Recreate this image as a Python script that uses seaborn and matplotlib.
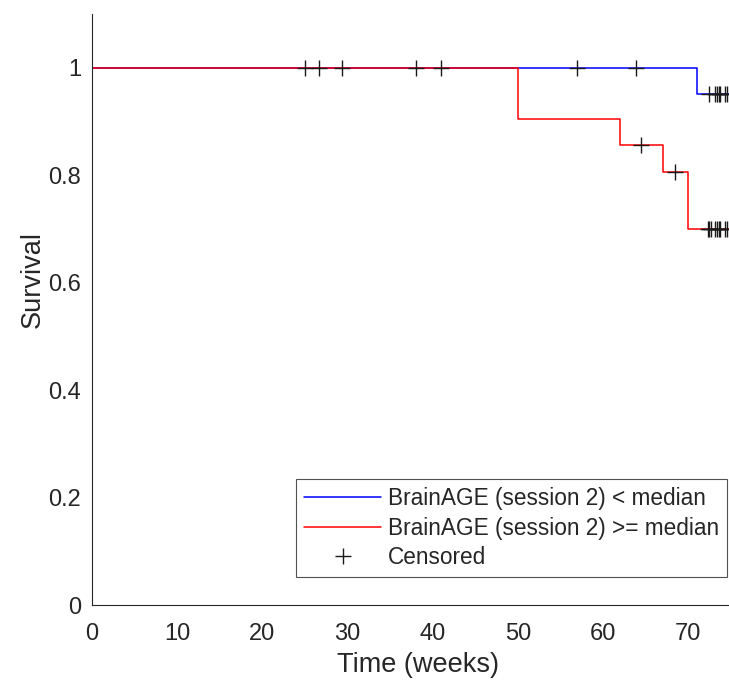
import numpy as np
import pandas as pd
import matplotlib
matplotlib.use('Agg')
import matplotlib.pyplot as plt
from matplotlib.lines import Line2D
import seaborn as sns

# Kaplan-Meier step curves (time in weeks, survival after each step)
low_time = [0, 71.0, 74.8]
low_surv = [1.0, 0.952, 0.952]
high_time = [0, 50.0, 62.0, 67.0, 70.0, 74.8]
high_surv = [1.0, 0.905, 0.857, 0.805, 0.700, 0.700]

# censored observations
cens_low_time = [25.0, 26.6, 29.3, 38.0, 41.0, 57.0, 63.9,
                 72.5, 73.2, 73.4, 73.6, 73.8, 74.3, 74.6]
cens_low_surv = [1.0] * 7 + [0.952] * 7
cens_high_time = [64.5, 68.5, 72.3, 72.5, 72.7, 73.2, 73.4, 73.6, 73.8, 74.3, 74.6]
cens_high_surv = [0.857, 0.805] + [0.700] * 9

labels = ['BrainAGE (session 2) < median', 'BrainAGE (session 2) >= median']

sns.set_style('white')
plt.rcParams['font.family'] = ['Liberation Sans', 'DejaVu Sans']

curves = pd.concat([
    pd.DataFrame({'time': low_time, 'surv': low_surv, 'group': labels[0]}),
    pd.DataFrame({'time': high_time, 'surv': high_surv, 'group': labels[1]}),
])
cens = pd.DataFrame({'time': cens_low_time + cens_high_time,
                     'surv': cens_low_surv + cens_high_surv})

fig = plt.figure(figsize=(7.29, 6.80), dpi=100)
ax = fig.add_axes([92 / 729, 75 / 680, 637 / 729, 591 / 680])

sns.lineplot(data=curves, x='time', y='surv', hue='group',
             palette={labels[0]: '#0000ff', labels[1]: '#ff0000'},
             drawstyle='steps-post', linewidth=1.1, ax=ax, legend=False,
             estimator=None, sort=False)
sns.scatterplot(data=cens, x='time', y='surv', marker='+', color='#1a1a1a',
                s=140, linewidth=1.0, ax=ax, legend=False, zorder=3)

ax.set_xlim(0, 74.8)
ax.set_ylim(0, 1.1)
ax.set_xticks(np.arange(0, 71, 10))
ax.set_yticks([0, 0.2, 0.4, 0.6, 0.8, 1.0])
ax.set_yticklabels(['0', '0.2', '0.4', '0.6', '0.8', '1'])
ax.tick_params(direction='in', length=5, width=0.8, labelsize=17,
               colors='#262626')
ax.tick_params(axis='x', pad=13)
ax.tick_params(axis='y', pad=8)
ax.set_xlabel('Time (weeks)', fontsize=19.5, color='#262626')
ax.set_ylabel('Survival', fontsize=19.5, color='#262626')
ax.xaxis.set_label_coords(0.512, -0.080)
ax.yaxis.set_label_coords(-0.073, 0.55)

for side in ['top', 'right']:
    ax.spines[side].set_visible(False)
for side in ['left', 'bottom']:
    ax.spines[side].set_color('#262626')
    ax.spines[side].set_linewidth(0.8)

handles = [
    Line2D([], [], color='#0000ff', lw=1.1),
    Line2D([], [], color='#ff0000', lw=1.1),
    Line2D([], [], color='#1a1a1a', marker='+', ms=12, mew=1.0, ls='none'),
]
leg = ax.legend(handles, labels + ['Censored'], loc='lower right',
                bbox_to_anchor=(0.997, 0.047), fontsize=16.3, frameon=True,
                fancybox=False, edgecolor='#262626', handlelength=3.4,
                borderpad=0.35, labelspacing=0.3, handletextpad=0.3,
                borderaxespad=0)
leg.get_frame().set_linewidth(0.8)

fig.savefig('out.png', dpi=100)
